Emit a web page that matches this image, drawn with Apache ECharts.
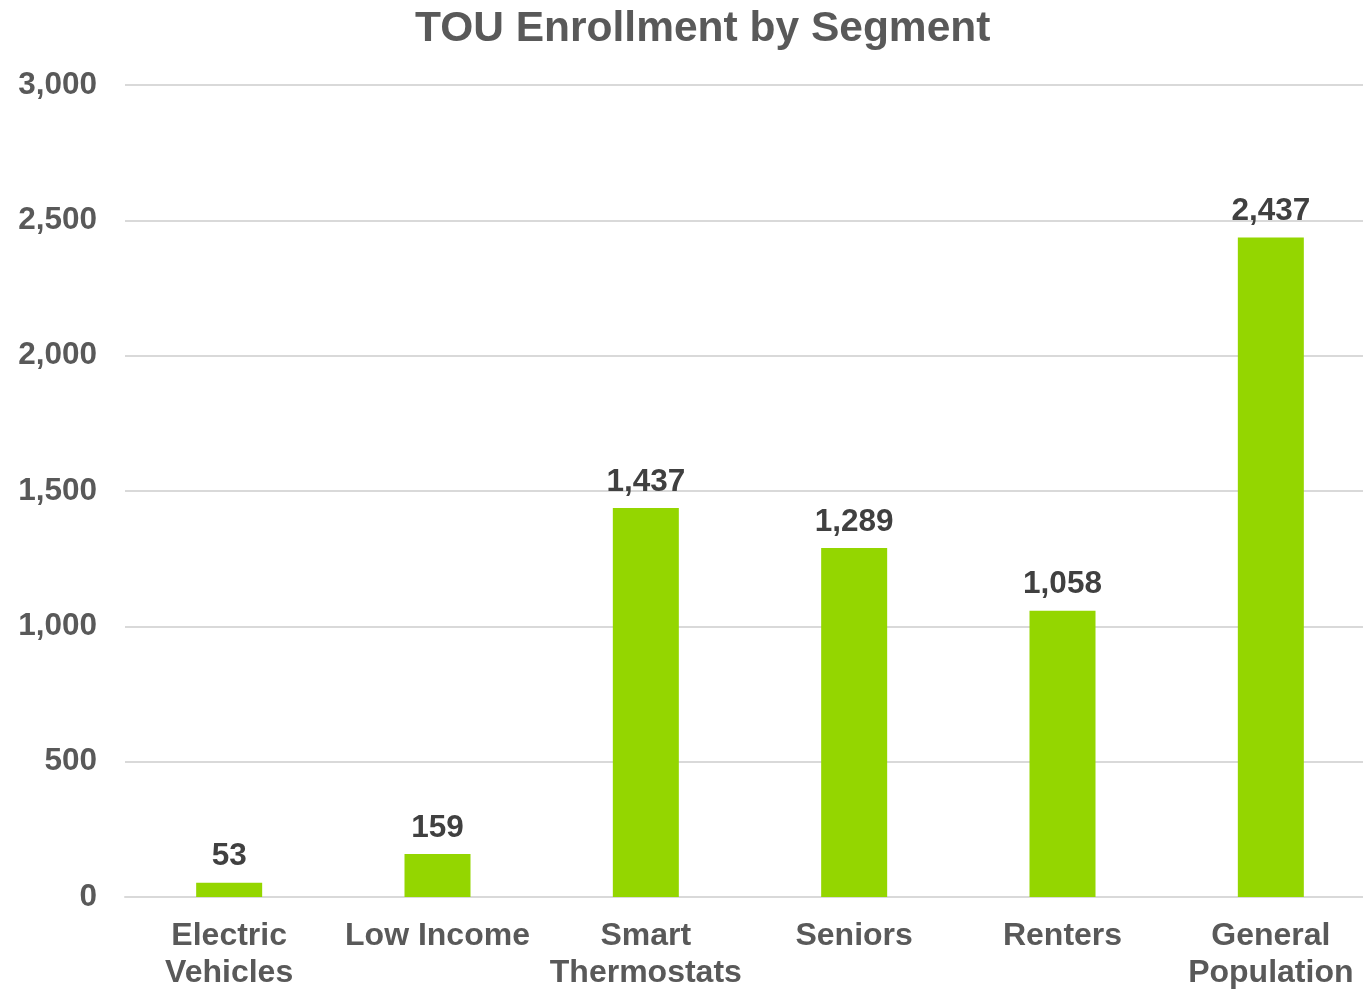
<!DOCTYPE html>
<html lang="en" style="height: 100%">
<head>
  <meta charset="utf-8">
</head>
<body style="height: 100%; margin: 0">
  <div id="container" style="height: 100%"></div>
  <script type="text/javascript" src="https://fastly.jsdelivr.net/npm/echarts@6/dist/echarts.min.js"></script>
  <script type="text/javascript">
    var segments = ['Electric\nVehicles', 'Low Income', 'Smart\nThermostats', 'Seniors', 'Renters', 'General\nPopulation'];
    var enrollment = [53, 159, 1437, 1289, 1058, 2437];

    var dom = document.getElementById('container');
    var myChart = echarts.init(dom, null, { renderer: 'canvas' });
    var font = '"Liberation Sans", Arial, sans-serif';

    var option = {
      animation: false,
      title: {
        text: 'TOU Enrollment by Segment',
        left: 410,
        top: 3,
        textStyle: { fontFamily: font, fontSize: 42.5, fontWeight: 'bold', color: '#595959' }
      },
      // plot runs slightly past the right edge, as in the original
      grid: { left: 125, right: -12, top: 85, bottom: 93, containLabel: false, outerBoundsMode: 'none' },
      xAxis: {
        type: 'category',
        data: segments,
        axisLine: { lineStyle: { color: '#D9D9D9', width: 2 } },
        axisTick: { show: false },
        axisLabel: {
          fontFamily: font, fontSize: 32, fontWeight: 'bold', color: '#595959',
          margin: 21, lineHeight: 37, interval: 0
        }
      },
      yAxis: {
        type: 'value',
        min: 0,
        max: 3000,
        interval: 500,
        axisLine: { show: false },
        axisTick: { show: false },
        splitLine: { lineStyle: { color: '#D9D9D9', width: 2 } },
        axisLabel: {
          fontFamily: font, fontSize: 31.5, fontWeight: 'bold', color: '#595959', margin: 28,
          formatter: function (v) { return v.toLocaleString('en-US'); }
        }
      },
      series: [{
        type: 'bar',
        data: enrollment,
        barWidth: 66,
        itemStyle: { color: '#94D600' },
        label: {
          show: true,
          position: 'top',
          distance: 10,
          fontFamily: font, fontSize: 31.5, fontWeight: 'bold', color: '#404040',
          formatter: function (p) { return p.value.toLocaleString('en-US'); }
        }
      }]
    };

    myChart.setOption(option);
    window.addEventListener('resize', myChart.resize);
  </script>
</body>
</html>
